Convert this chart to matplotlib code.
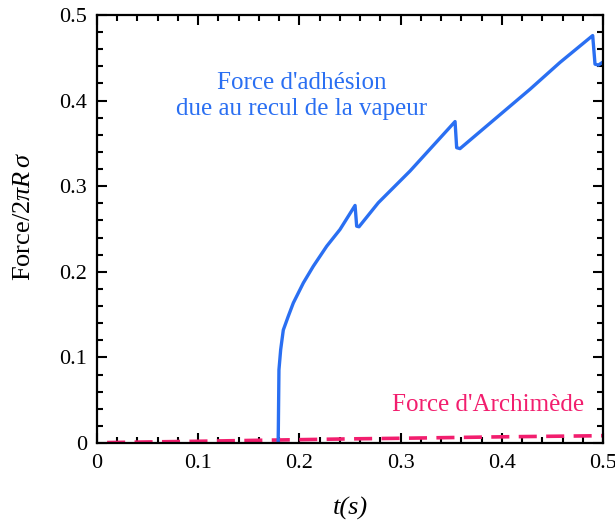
import matplotlib
matplotlib.use("Agg")
import matplotlib.pyplot as plt
from matplotlib import ticker

plt.rcParams["font.family"] = ["Liberation Serif", "DejaVu Serif"]
plt.rcParams["mathtext.fontset"] = "custom"
plt.rcParams["mathtext.rm"] = "Liberation Serif"
plt.rcParams["mathtext.it"] = "Liberation Serif:italic"

# adhesion force (blue)
t_adh = [0.179, 0.1792, 0.1798, 0.1815, 0.1841, 0.189, 0.194, 0.2039, 0.2137,
         0.227, 0.2401, 0.255, 0.2566, 0.2589, 0.278, 0.3093, 0.3538, 0.3554,
         0.3587, 0.4279, 0.4575, 0.4898, 0.4921, 0.4954, 0.5003]
f_adh = [0.0, 0.017, 0.0855, 0.109, 0.132, 0.148, 0.1636, 0.187, 0.2064,
         0.2299, 0.2494, 0.2775, 0.2533, 0.2526, 0.2807, 0.3177, 0.3755, 0.345,
         0.3439, 0.4133, 0.4446, 0.476, 0.4426, 0.4415, 0.4453]

# Archimedes force (pink dashed)
t_arch = [0.01, 0.05, 0.1, 0.18, 0.25, 0.3, 0.4, 0.5]
f_arch = [0.0005, 0.0012, 0.002, 0.0035, 0.0048, 0.0055, 0.0072, 0.0085]

blue = "#2a6ff2"
pink = "#f21e6e"

fig = plt.figure(figsize=(6.15, 5.23), dpi=100)
ax = fig.add_axes([0.1577, 0.153, 0.8228, 0.8183])

ax.plot(t_arch, f_arch, color=pink, linewidth=2.6, dashes=(5, 2.6))
ax.plot(t_adh, f_adh, color=blue, linewidth=2.4, solid_joinstyle="round")

ax.set_xlim(0, 0.5)
ax.set_ylim(0, 0.5)
ax.xaxis.set_major_locator(ticker.MultipleLocator(0.1))
ax.xaxis.set_minor_locator(ticker.MultipleLocator(0.02))
ax.yaxis.set_major_locator(ticker.MultipleLocator(0.1))
ax.yaxis.set_minor_locator(ticker.MultipleLocator(0.02))
fmt = ticker.FuncFormatter(lambda v, p: "0" if abs(v) < 1e-9 else "%g" % v)
ax.xaxis.set_major_formatter(fmt)
ax.yaxis.set_major_formatter(fmt)

ax.tick_params(which="both", direction="in", top=True, right=True,
               width=1.5, labelsize=16)
ax.tick_params(which="major", length=7)
ax.tick_params(which="minor", length=4)
ax.tick_params(axis="x", pad=8)
ax.tick_params(axis="y", pad=7)
for s in ax.spines.values():
    s.set_linewidth(1.6)

ax.set_xlabel("t(s)", fontsize=19, fontstyle="italic")
ax.set_ylabel("Force/2$\\pi R\\,\\sigma$", fontsize=19)
ax.xaxis.set_label_coords(0.5, -0.125)
ax.yaxis.set_label_coords(-0.122, 0.53)

ax.text(0.2026, 0.405, "Force d'adhésion\ndue au recul de la vapeur",
        color=blue, fontsize=18, ha="center", va="center", linespacing=1.25)
ax.text(0.386, 0.044, "Force d'Archimède", color=pink, fontsize=18,
        ha="center", va="center")

fig.savefig("out.png", dpi=100)
